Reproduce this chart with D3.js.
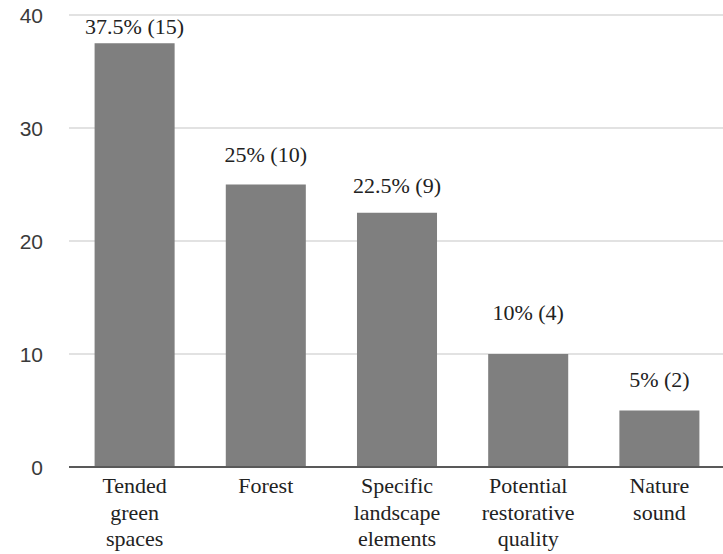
<!DOCTYPE html>
<html>
<head>
<meta charset="utf-8">
<script src="https://cdn.jsdelivr.net/npm/d3@7"></script>
</head>
<body style="margin:0;background:#fff">
<svg id="fig" width="723" height="554" style="display:block" font-family="Liberation Serif"></svg>
<script>
// Categories (multi-line labels) and percentages with respondent counts
const categories = [
  ["Tended", "green", "spaces"],
  ["Forest"],
  ["Specific", "landscape", "elements"],
  ["Potential", "restorative", "quality"],
  ["Nature", "sound"]
];
const percents = [37.5, 25, 22.5, 10, 5];
const counts = [15, 10, 9, 4, 2];
const yTicks = [0, 10, 20, 30, 40];

// Pixel gap between each bar top and its value label baseline
const labelLift = [9, 23, 20, 34, 24];

const svg = d3.select("#fig");
const plot = { left: 69, right: 725, top: 15, bottom: 467 };

const x = d3.scaleBand()
  .domain(d3.range(categories.length))
  .range([plot.left, plot.right])
  .paddingInner(0.39)
  .paddingOuter(0.195);

const y = d3.scaleLinear()
  .domain([0, 40])
  .range([plot.bottom, plot.top]);

// Horizontal gridlines
svg.append("g")
  .selectAll("line")
  .data(yTicks.filter(t => t > 0))
  .join("line")
  .attr("x1", plot.left)
  .attr("x2", 723)
  .attr("y1", d => y(d))
  .attr("y2", d => y(d))
  .attr("stroke", "#d9d9d9")
  .attr("stroke-width", 1.6);

// Y axis tick labels (sans)
svg.append("g")
  .attr("font-family", "Liberation Sans")
  .selectAll("text")
  .data(yTicks)
  .join("text")
  .attr("x", 43)
  .attr("y", d => y(d))
  .attr("dy", "0.36em")
  .attr("text-anchor", "end")
  .attr("font-size", 21)
  .attr("fill", "#3a3a3a")
  .text(d => d);

// Bars
svg.append("g")
  .selectAll("rect")
  .data(percents)
  .join("rect")
  .attr("x", (d, i) => x(i))
  .attr("y", d => y(d))
  .attr("width", x.bandwidth())
  .attr("height", d => y(0) - y(d))
  .attr("fill", "#7f7f7f");

// Baseline
svg.append("line")
  .attr("x1", plot.left)
  .attr("x2", 723)
  .attr("y1", y(0))
  .attr("y2", y(0))
  .attr("stroke", "#595959")
  .attr("stroke-width", 2);

// Value labels (serif)
svg.append("g")
  .attr("font-family", "Liberation Serif")
  .selectAll("text")
  .data(percents)
  .join("text")
  .attr("x", (d, i) => x(i) + x.bandwidth() / 2)
  .attr("y", (d, i) => y(d) - labelLift[i])
  .attr("text-anchor", "middle")
  .attr("font-size", 22)
  .attr("fill", "#222")
  .text((d, i) => `${d}% (${counts[i]})`);

// Category labels (serif, one tspan per line)
const cat = svg.append("g")
  .attr("font-family", "Liberation Serif")
  .selectAll("text")
  .data(categories)
  .join("text")
  .attr("x", (d, i) => x(i) + x.bandwidth() / 2)
  .attr("y", 493)
  .attr("text-anchor", "middle")
  .attr("font-size", 22)
  .attr("fill", "#222");

cat.selectAll("tspan")
  .data((d, i) => d.map(line => ({ line, i })))
  .join("tspan")
  .attr("x", d => x(d.i) + x.bandwidth() / 2)
  .attr("dy", (d, j) => j === 0 ? 0 : 26.5)
  .text(d => d.line);
</script>
</body>
</html>
